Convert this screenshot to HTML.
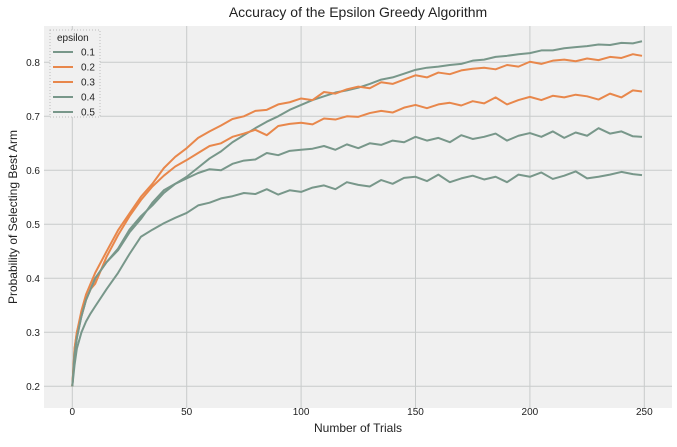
<!DOCTYPE html>
<html><head><meta charset="utf-8"><style>
body{margin:0;background:#fff;font-family:"Liberation Sans","DejaVu Sans",sans-serif}
</style></head><body>
<svg id="chart" width="677" height="442" xmlns="http://www.w3.org/2000/svg">
<rect width="677" height="442" fill="#ffffff"/>
<rect x="44" y="26" width="628" height="382" fill="#f0f0f0"/>
<g id="grid"></g>
<g id="series"></g>
<text x="358" y="17" text-anchor="middle" font-size="14" fill="#222">Accuracy of the Epsilon Greedy Algorithm</text>
<text x="358" y="432" text-anchor="middle" font-size="12" fill="#222">Number of Trials</text>
<text transform="translate(17,217) rotate(-90)" text-anchor="middle" font-size="12" fill="#222">Probability of Selecting Best Arm</text>
<g id="legend">
<rect x="50" y="30" width="50" height="87" fill="#f0f0f0" stroke="#bbb" stroke-dasharray="1,2"/>
<text x="57" y="41" font-size="10" fill="#222">epsilon</text>
</g>
</svg>
<script>
const trials=[0,1,2,4,6,8,10,15,20,25,30,35,40,45,50,55,60,65,70,75,80,85,90,95,100,105,110,115,120,125,130,135,140,145,150,155,160,165,170,175,180,185,190,195,200,205,210,215,220,225,230,235,240,245,249];
const eps01=[0.20,0.26,0.29,0.33,0.36,0.38,0.40,0.43,0.455,0.49,0.515,0.535,0.558,0.575,0.588,0.605,0.622,0.635,0.652,0.665,0.678,0.69,0.70,0.712,0.721,0.73,0.737,0.744,0.748,0.753,0.76,0.768,0.772,0.779,0.786,0.79,0.792,0.795,0.797,0.803,0.805,0.81,0.812,0.815,0.817,0.822,0.822,0.826,0.828,0.83,0.833,0.832,0.836,0.835,0.839];
const eps02=[0.20,0.27,0.30,0.34,0.37,0.39,0.41,0.45,0.489,0.52,0.551,0.575,0.604,0.625,0.641,0.66,0.672,0.683,0.695,0.70,0.71,0.712,0.722,0.726,0.733,0.73,0.745,0.742,0.75,0.755,0.752,0.763,0.76,0.768,0.776,0.772,0.781,0.778,0.785,0.788,0.79,0.787,0.795,0.792,0.801,0.797,0.803,0.805,0.802,0.807,0.804,0.81,0.808,0.815,0.812];
const eps03=[0.20,0.27,0.30,0.33,0.36,0.38,0.39,0.44,0.48,0.515,0.545,0.57,0.59,0.607,0.619,0.632,0.645,0.65,0.662,0.668,0.675,0.665,0.682,0.686,0.688,0.685,0.696,0.694,0.70,0.699,0.706,0.71,0.707,0.716,0.721,0.715,0.722,0.725,0.72,0.728,0.724,0.735,0.722,0.73,0.736,0.73,0.738,0.735,0.74,0.737,0.731,0.742,0.735,0.748,0.746];
const eps04=[0.20,0.26,0.29,0.33,0.36,0.38,0.40,0.43,0.452,0.485,0.51,0.54,0.563,0.575,0.585,0.595,0.602,0.6,0.612,0.618,0.62,0.632,0.628,0.636,0.638,0.64,0.645,0.638,0.648,0.641,0.65,0.647,0.655,0.652,0.662,0.655,0.66,0.652,0.665,0.658,0.662,0.668,0.655,0.664,0.669,0.662,0.672,0.66,0.67,0.664,0.678,0.668,0.672,0.663,0.662];
const eps05=[0.20,0.24,0.27,0.30,0.32,0.335,0.348,0.38,0.41,0.445,0.477,0.49,0.502,0.512,0.521,0.535,0.54,0.548,0.552,0.558,0.556,0.565,0.555,0.563,0.56,0.568,0.572,0.565,0.578,0.573,0.57,0.582,0.575,0.586,0.588,0.58,0.592,0.578,0.585,0.59,0.583,0.588,0.578,0.592,0.588,0.596,0.584,0.59,0.598,0.585,0.588,0.592,0.597,0.593,0.591];
const seriesLabels=["0.1","0.2","0.3","0.4","0.5"];
const xTicks=[0,50,100,150,200,250];
const yTicks=[0.2,0.3,0.4,0.5,0.6,0.7,0.8];

const NS="http://www.w3.org/2000/svg";
const xs=v=>72.3+v*2.288;
const ys=v=>386.3-(v-0.2)*540;
const colors=["#78978a","#e8874b","#e8874b","#78978a","#78978a"];
const data=[eps01,eps02,eps03,eps04,eps05];
const grid=document.getElementById('grid');
xTicks.forEach(t=>{
  const l=document.createElementNS(NS,'line');
  l.setAttribute('x1',xs(t));l.setAttribute('x2',xs(t));l.setAttribute('y1',26);l.setAttribute('y2',408);
  l.setAttribute('stroke','#c8cbcb');l.setAttribute('stroke-width','1');
  
  
  grid.appendChild(l);
  const tx=document.createElementNS(NS,'text');
  tx.setAttribute('x',xs(t));tx.setAttribute('y',415);tx.setAttribute('text-anchor','middle');tx.setAttribute('font-size','10');tx.setAttribute('fill','#222');
  tx.textContent=t;
  
  
  grid.appendChild(tx);
});
yTicks.forEach(t=>{
  const l=document.createElementNS(NS,'line');
  l.setAttribute('x1',44);l.setAttribute('x2',672);l.setAttribute('y1',ys(t));l.setAttribute('y2',ys(t));
  l.setAttribute('stroke','#c8cbcb');l.setAttribute('stroke-width','1');
  
  
  grid.appendChild(l);
  const tx=document.createElementNS(NS,'text');
  tx.setAttribute('x',40);tx.setAttribute('y',ys(t)+3.5);tx.setAttribute('text-anchor','end');tx.setAttribute('font-size','10');tx.setAttribute('fill','#222');
  tx.textContent=t.toFixed(1);
  
  
  grid.appendChild(tx);
});
const sg=document.getElementById('series');
data.forEach((arr,i)=>{
  const p=document.createElementNS(NS,'polyline');
  p.setAttribute('points',arr.map((v,j)=>xs(trials[j])+','+ys(v)).join(' '));
  p.setAttribute('fill','none');p.setAttribute('stroke',colors[i]);p.setAttribute('stroke-width','2');p.setAttribute('stroke-linejoin','round');
  
  
  sg.appendChild(p);
});
const lg=document.getElementById('legend');
seriesLabels.forEach((s,i)=>{
  const y=52+i*15;
  const l=document.createElementNS(NS,'line');
  l.setAttribute('x1',53);l.setAttribute('x2',73);l.setAttribute('y1',y);l.setAttribute('y2',y);
  l.setAttribute('stroke',colors[i]);l.setAttribute('stroke-width','2');
  
  
  lg.appendChild(l);
  const tx=document.createElementNS(NS,'text');
  tx.setAttribute('x',81);tx.setAttribute('y',y+3.5);tx.setAttribute('font-size','10');tx.setAttribute('fill','#222');
  tx.textContent=s;
  
  
  lg.appendChild(tx);
});
</script>
</body></html>
